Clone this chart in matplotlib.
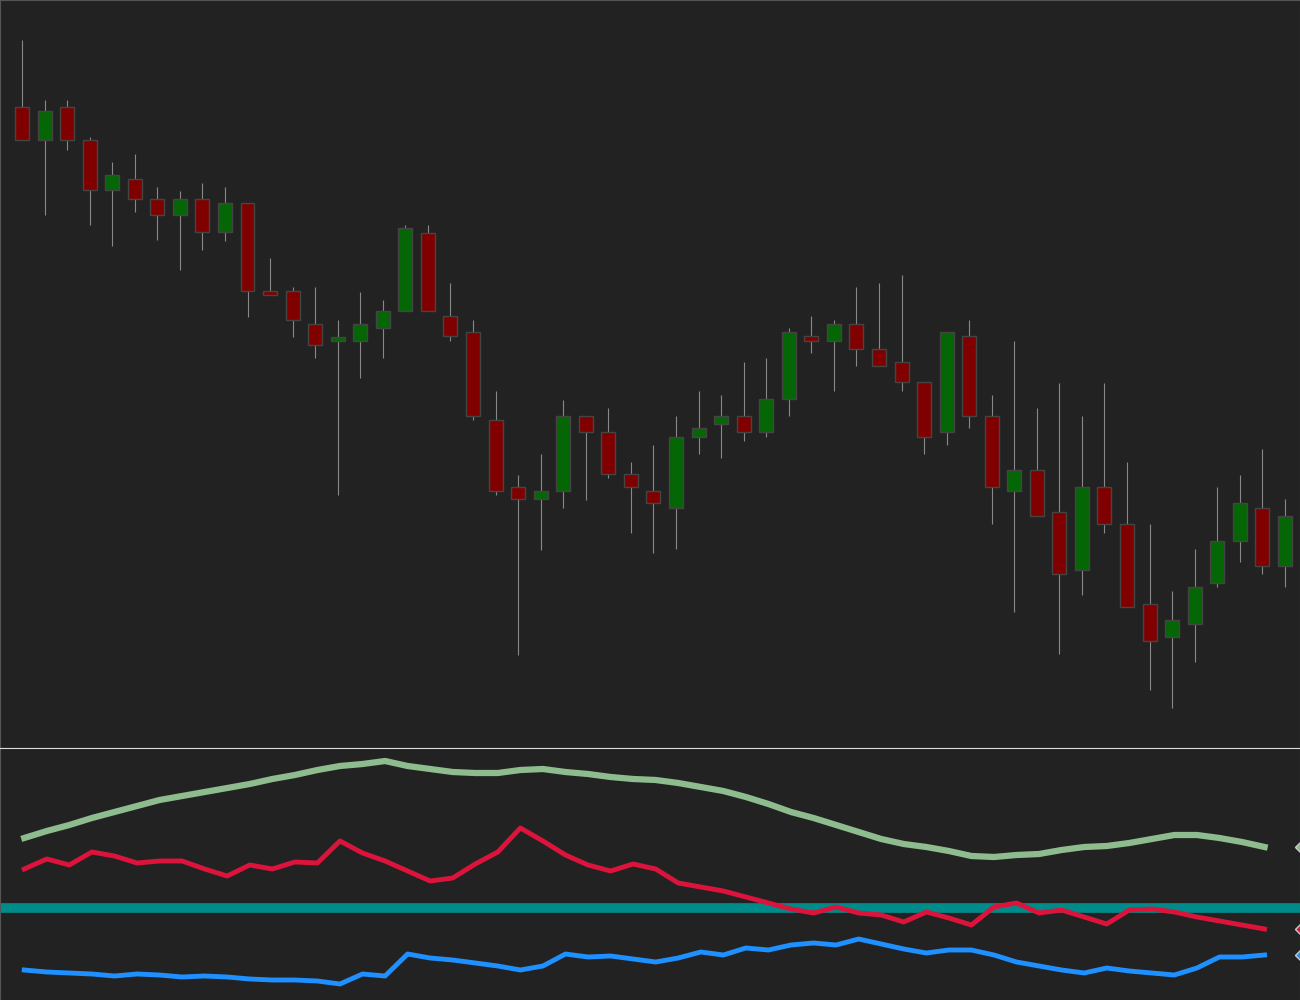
import numpy as np
import matplotlib.pyplot as plt

# candle levels (screen scale, larger = lower)
opens  = [107,140,107,140,190,179,199,215,199,232,203,291,291,324,341,341,328,311,233,316,332,420,487,499,491,416,432,474,491,508,437,424,416,432,399,336,341,324,349,362,382,432,336,416,491,470,512,570,487,524,604,637,624,583,541,508,566]
closes = [140,111,140,190,175,199,215,199,232,203,291,295,320,345,337,324,311,228,311,336,416,491,499,491,416,432,474,487,503,437,428,416,432,399,332,341,324,349,366,382,437,332,416,487,470,516,574,487,524,607,641,620,587,541,503,566,516]
highs  = [40,100,100,137,162,154,187,191,183,187,203,258,287,287,320,292,300,225,225,283,320,391,475,454,400,416,408,462,445,416,391,395,362,358,328,316,320,287,283,275,382,332,320,395,341,408,383,416,383,462,524,591,549,487,475,449,499]
lows   = [140,215,150,225,246,212,240,270,250,241,317,295,337,358,495,378,358,311,311,341,420,495,655,550,508,500,478,533,553,549,454,458,441,437,416,353,391,366,366,391,454,445,428,524,612,516,654,595,533,607,690,708,662,587,562,574,587]

slow_line = [838,831,825,818,812,806,800,796,792,788,784,779,775,770,766,764,761,766,769,772,
             773,773,770,769,772,774,777,779,780,783,787,791,797,804,812,818,825,832,839,844,
             847,851,856,857,855,854,850,847,846,843,839,835,835,838,842,847]
fast_line = [869,859,865,852,856,863,861,861,869,876,865,869,862,863,841,853,861,871,881,878,
             864,852,828,841,855,865,871,864,869,883,887,891,897,903,909,913,907,913,915,922,
             912,918,925,907,903,913,910,917,924,910,909,912,917,921,925,929]
low_line  = [970,972,973,974,976,974,975,977,976,977,979,980,980,981,984,974,976,954,958,960,
             963,966,970,966,954,957,956,959,962,958,952,955,948,950,945,943,945,939,944,949,
             953,950,950,955,962,966,970,973,968,971,973,975,968,957,957,955]
base_level = 908

bg = '#222222'
fig = plt.figure(figsize=(13, 10), dpi=100, facecolor=bg)
ax = fig.add_axes([0, 0.252, 1, 0.748], facecolor=bg)
ax2 = fig.add_axes([0, 0, 1, 0.252], facecolor=bg)

x = np.arange(1, len(opens) + 1)
for i in range(len(x)):
    o, c, h, l = opens[i], closes[i], highs[i], lows[i]
    up = c < o
    col = '#056605' if up else '#800000'
    ax.vlines(x[i], h, l, color='#888888', lw=0.8, zorder=1)
    ax.bar(x[i], abs(c - o), bottom=min(o, c), width=0.62, color=col,
           edgecolor='#444444', lw=1, zorder=2)
ax.set_xlim(0.025, 57.67)
ax.set_ylim(748, 0)

xl = np.arange(1, len(slow_line) + 1) + 0.1
ax2.axhline(base_level, color='#008b8b', lw=7, zorder=1)
ax2.plot(xl, slow_line, color='#8fbc8f', lw=4.5, zorder=2)
ax2.plot(xl, fast_line, color='#dc143c', lw=3.5, zorder=3)
ax2.plot(xl, low_line, color='#1e90ff', lw=3.5, zorder=3)
for v, c in [(slow_line[-1], '#8fbc8f'), (fast_line[-1], '#dc143c'), (low_line[-1], '#1e90ff')]:
    ax2.plot(57.84, v, marker='D', ms=9, color=c, mec='#cccccc', mew=1, clip_on=True)
ax2.set_xlim(0.025, 57.67)
ax2.set_ylim(1000, 748)

for a in (ax, ax2):
    a.set_xticks([])
    a.set_yticks([])
    for s in a.spines.values():
        s.set_color('#555555')
ax2.spines['top'].set_color('#dddddd')

plt.savefig('out.png', facecolor=bg)
